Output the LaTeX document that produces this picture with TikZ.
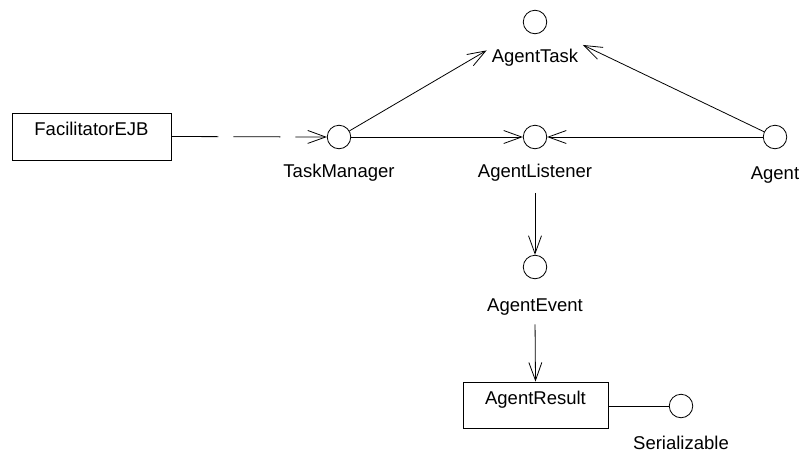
\documentclass[tikz,border=0pt]{standalone}
\usepackage{fontspec}
\setmainfont{Liberation Sans}
\usetikzlibrary{arrows.meta}
\begin{document}
\begin{tikzpicture}[x=1pt,y=-1pt,
  every node/.style={font=\fontsize{18.5}{21}\selectfont},
  iface/.style={draw,circle,minimum size=23.5pt,inner sep=0pt,line width=0.8pt},
  cls/.style={draw,rectangle,inner sep=0pt,line width=0.8pt},
  tag/.style={inner sep=3pt},
  conn/.style={line width=0.8pt},
  dep/.style={conn,-{Straight Barb[length=18pt,width=13pt,line width=0.8pt]}}
]
\useasboundingbox (0,0) rectangle (803,453);

% classes
\node[cls,minimum width=159pt,text height=22.5pt,text depth=24.5pt] (fac) at (91.5,136.5) {FacilitatorEJB};
\node[cls,minimum width=145pt,text height=22.5pt,text depth=23.5pt] (res) at (535.5,405) {AgentResult};

% interfaces
\node[iface] (tm) at (339,137) {};
\node[tag] (tmL) at (339,173) {TaskManager};
\node[iface] (at) at (535,22) {};
\node[tag] (atL) at (535,58) {AgentTask};
\node[iface] (al) at (535,137) {};
\node[tag] (alL) at (535,173) {AgentListener};
\node[iface] (ag) at (775,137) {};
\node[tag] (agL) at (775,175) {Agent};
\node[iface] (ev) at (535,267) {};
\node[tag] (evL) at (535,307) {AgentEvent};
\node[iface] (ser) at (681,406) {};
\node[tag] (serL) at (681,443) {Serializable};

% connectors
\draw[dep,dash pattern=on 47pt off 15pt] (fac.east) -- (tm.west);
\draw[dep,shorten >=44pt] (tm) -- (at);
\draw[dep,shorten >=41pt] (ag) -- (at);
\draw[dep] (tm) -- (al);
\draw[dep] (ag) -- (al);
\draw[dep,shorten <=8pt] (alL.south) -- (ev.north);
\draw[dep,shorten <=6pt] (evL.south) -- (res.north);
\draw[conn] (res.east |- ser.west) -- (ser.west);
\end{tikzpicture}
\end{document}
